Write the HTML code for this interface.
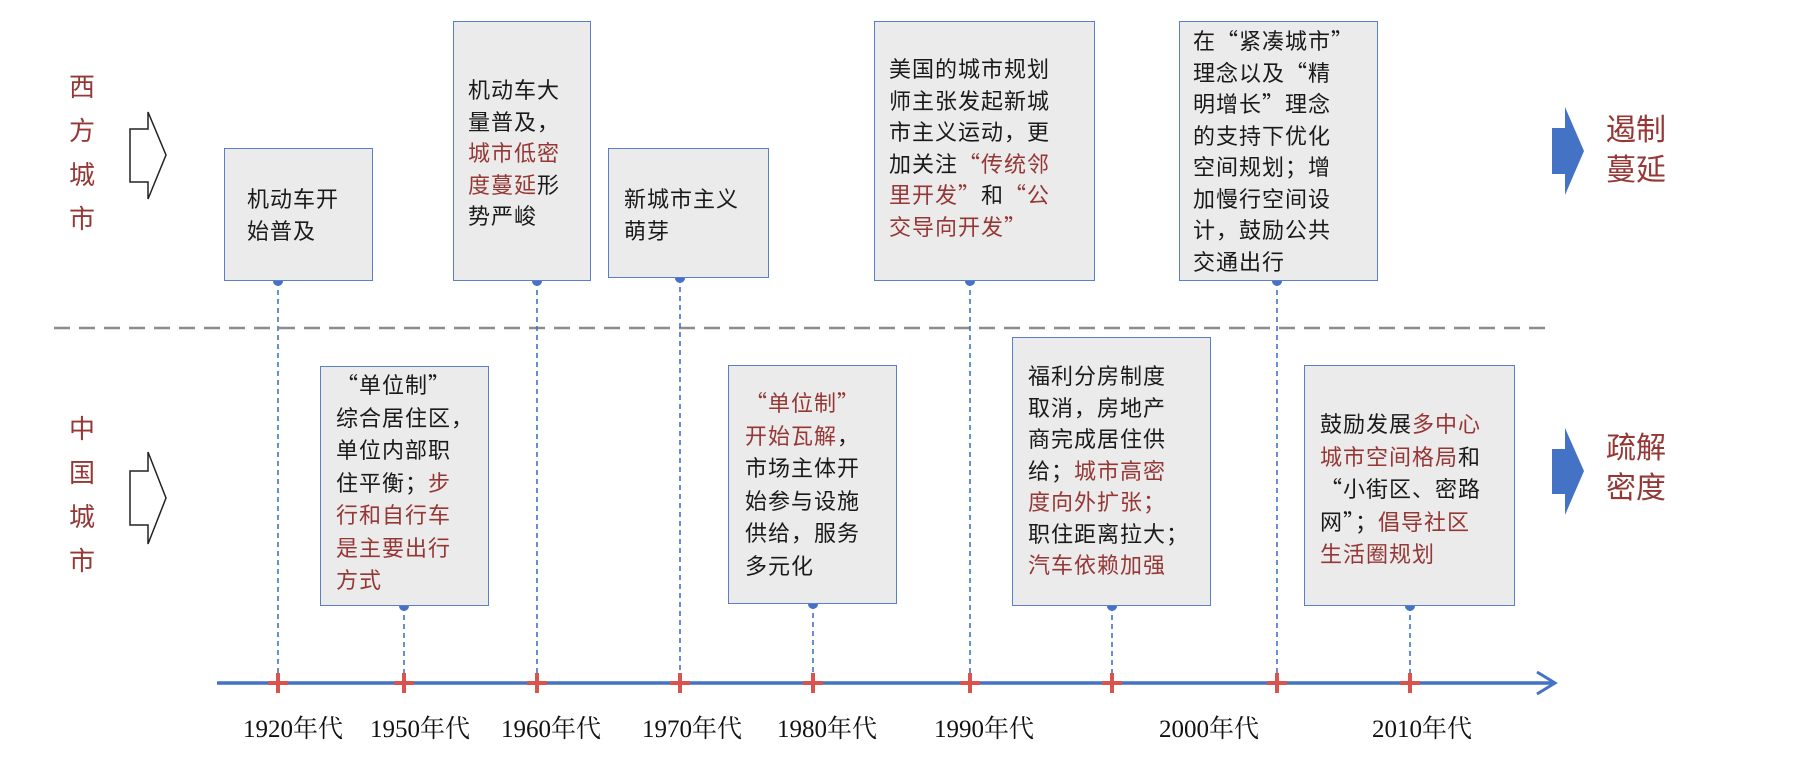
<!DOCTYPE html>
<html><head><meta charset="utf-8"><style>
body{margin:0;width:1816px;height:768px;background:#fff;position:relative;overflow:hidden;font-family:"Liberation Sans","Noto Sans CJK SC",sans-serif;}
.box{position:absolute;background:#ebebeb;border:1.5px solid #5b7fc7;box-sizing:border-box;}
.t{position:absolute;font-size:22px;color:#1a1a1a;white-space:nowrap;letter-spacing:1px;font-family:"Noto Sans CJK SC",sans-serif;}
.t div{height:31.5px;line-height:31.5px;}
.lo div{height:32.5px;line-height:32.5px;}
.r{color:#953735;}
.side{position:absolute;font-size:26px;color:#953735;line-height:44px;width:30px;text-align:center;}
.big{position:absolute;font-size:30px;color:#953735;line-height:40px;}
.yr{position:absolute;top:709px;font-family:"Liberation Serif","Noto Serif CJK SC",serif;font-size:25px;color:#111;transform:translateX(-50%);white-space:nowrap;}
</style></head><body>
<svg width="1816" height="768" style="position:absolute;left:0;top:0">
<line x1="54" y1="328" x2="1552" y2="328" stroke="#8c8c8c" stroke-width="2.5" stroke-dasharray="16,9"/>
<g stroke="#4472c4" stroke-width="1.6" stroke-dasharray="5,4">
<line x1="278" y1="281" x2="278" y2="683"/><line x1="404" y1="606" x2="404" y2="683"/>
<line x1="537" y1="281" x2="537" y2="683"/><line x1="680" y1="278" x2="680" y2="683"/>
<line x1="813" y1="604" x2="813" y2="683"/><line x1="970" y1="281" x2="970" y2="683"/>
<line x1="1112" y1="606" x2="1112" y2="683"/><line x1="1277" y1="281" x2="1277" y2="683"/>
<line x1="1410" y1="606" x2="1410" y2="683"/>
</g>
<line x1="217" y1="683" x2="1552" y2="683" stroke="#4472c4" stroke-width="3.5"/>
<polyline points="1537,672 1555,683 1537,694" fill="none" stroke="#4472c4" stroke-width="3"/>
<g fill="#4472c4">
<circle cx="278" cy="281" r="5"/><circle cx="404" cy="606" r="5"/><circle cx="537" cy="281" r="5"/>
<circle cx="680" cy="278" r="5"/><circle cx="813" cy="604" r="5"/><circle cx="970" cy="281" r="5"/>
<circle cx="1112" cy="606" r="5"/><circle cx="1277" cy="281" r="5"/><circle cx="1410" cy="606" r="5"/>
</g>
<g stroke="#d9534f" stroke-width="4">
<path d="M278 673v20M268 683h20M404 673v20M394 683h20M537 673v20M527 683h20M680 673v20M670 683h20M813 673v20M803 683h20M970 673v20M960 683h20M1112 673v20M1102 683h20M1277 673v20M1267 683h20M1410 673v20M1400 683h20"/>
</g>
<polygon points="130,129 148,129 148,112 166,155 148,199 148,182 130,182" fill="#fff" stroke="#222" stroke-width="1.5"/>
<polygon points="130,471 148,471 148,452 166,498 148,544 148,525 130,525" fill="#fff" stroke="#222" stroke-width="1.5"/>
<polygon points="1552,128 1565,128 1565,107 1584,151 1565,195 1565,174 1552,174" fill="#4472c4"/>
<polygon points="1552,449 1565,449 1565,428 1584,471 1565,515 1565,494 1552,494" fill="#4472c4"/>
</svg>
<div class="side" style="left:67px;top:65px">西<br>方<br>城<br>市</div>
<div class="side" style="left:67px;top:407px">中<br>国<br>城<br>市</div>
<div class="big" style="left:1606px;top:111px">遏制<br>蔓延</div>
<div class="big" style="left:1606px;top:429px">疏解<br>密度</div>

<div class="box" style="left:224px;top:148px;width:149px;height:133px"></div>
<div class="t" style="left:247px;top:183px"><div>机动车开</div><div>始普及</div></div>
<div class="box" style="left:453px;top:21px;width:138px;height:260px"></div>
<div class="t" style="left:468px;top:74px"><div>机动车大</div><div>量普及，</div><div class="r">城市低密</div><div><span class="r">度蔓延</span>形</div><div>势严峻</div></div>
<div class="box" style="left:608px;top:148px;width:161px;height:130px"></div>
<div class="t" style="left:624px;top:183px"><div>新城市主义</div><div>萌芽</div></div>
<div class="box" style="left:874px;top:21px;width:221px;height:260px"></div>
<div class="t" style="left:889px;top:53px"><div>美国的城市规划</div><div>师主张发起新城</div><div>市主义运动，更</div><div>加关注<span class="r">“传统邻</span></div><div><span class="r">里开发”</span>和<span class="r">“公</span></div><div class="r">交导向开发”</div></div>
<div class="box" style="left:1179px;top:21px;width:199px;height:260px"></div>
<div class="t" style="left:1193px;top:25px"><div>在“紧凑城市”</div><div>理念以及“精</div><div>明增长”理念</div><div>的支持下优化</div><div>空间规划；增</div><div>加慢行空间设</div><div>计，鼓励公共</div><div>交通出行</div></div>

<div class="box" style="left:320px;top:366px;width:169px;height:240px"></div>
<div class="t lo" style="left:336px;top:368px"><div>“单位制”</div><div>综合居住区，</div><div>单位内部职</div><div>住平衡；<span class="r">步</span></div><div class="r">行和自行车</div><div class="r">是主要出行</div><div class="r">方式</div></div>
<div class="box" style="left:728px;top:365px;width:169px;height:239px"></div>
<div class="t lo" style="left:745px;top:386px"><div class="r">“单位制”</div><div><span class="r">开始瓦解</span>，</div><div>市场主体开</div><div>始参与设施</div><div>供给，服务</div><div>多元化</div></div>
<div class="box" style="left:1012px;top:337px;width:199px;height:269px"></div>
<div class="t" style="left:1028px;top:360px"><div>福利分房制度</div><div>取消，房地产</div><div>商完成居住供</div><div>给；<span class="r">城市高密</span></div><div class="r">度向外扩张；</div><div>职住距离拉大；</div><div class="r">汽车依赖加强</div></div>
<div class="box" style="left:1304px;top:365px;width:211px;height:241px"></div>
<div class="t lo" style="left:1320px;top:407px"><div>鼓励发展<span class="r">多中心</span></div><div><span class="r">城市空间格局</span>和</div><div>“小街区、密路</div><div>网”；<span class="r">倡导社区</span></div><div class="r">生活圈规划</div></div>

<div class="yr" style="left:293px">1920年代</div>
<div class="yr" style="left:420px">1950年代</div>
<div class="yr" style="left:551px">1960年代</div>
<div class="yr" style="left:692px">1970年代</div>
<div class="yr" style="left:827px">1980年代</div>
<div class="yr" style="left:984px">1990年代</div>
<div class="yr" style="left:1209px">2000年代</div>
<div class="yr" style="left:1422px">2010年代</div>
</body></html>
